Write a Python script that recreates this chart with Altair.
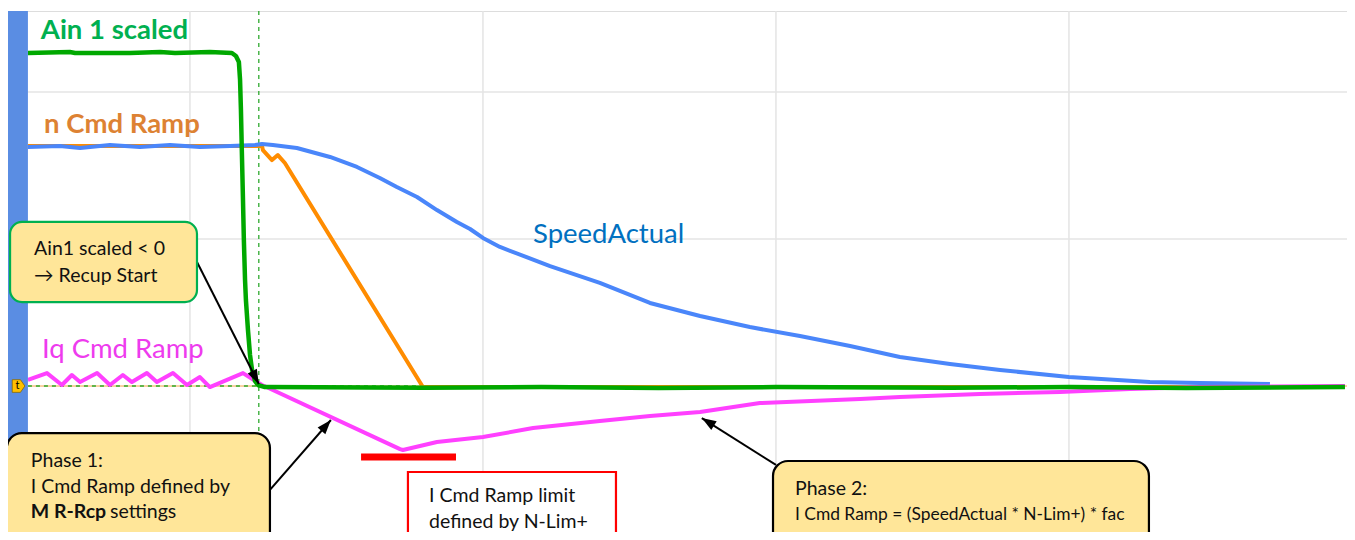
import altair as alt
import pandas as pd

# ---------------- data (time in ms, value in units; 100 units per grid division)
ain_t = [-55.3, -41.0, -39.2, -20.5, -10.2, -5.1, 6.8, 14.3, 15.7, 16.7, 17.1, 17.4, 17.7, 18.1, 18.4,
         18.8, 19.1, 19.8, 20.5, 21.2, 22.2, 23.2, 25.6, 80.0, 120.0, 160.0, 200.0, 260.0, 300.0, 340.0, 394.2]
ain_v = [226.5, 227.2, 226.5, 226.5, 227.2, 226.5, 227.2, 226.5, 224.5, 220.4, 208.2, 187.8, 160.5, 126.5, 99.3,
         72.1, 58.5, 38.1, 21.1, 10.9, 3.4, 0.7, -0.7, -1.2, -0.7, -1.4, -0.7, -1.2, -0.7, -1.4, -0.7]

ncmd_t = [-55.3, 24.6, 24.9, 28.0, 30.0, 32.4, 79.5, 394.2]
ncmd_v = [163.3, 163.3, 160.5, 153.7, 157.1, 151.7, -0.7, -0.7]

speed_t = [-55.3, -44.4, -37.5, -27.3, -17.1, -6.8, 3.4, 13.7, 22.2, 24.6, 28.3, 36.5, 47.8, 57.0, 64.8,
           70.6, 77.5, 84.3, 91.1, 95.6, 100.0, 105.8, 122.9, 139.9, 157.0, 174.1, 191.1, 208.2, 225.3,
           242.3, 259.4, 276.5, 300.0, 327.6, 344.7, 368.6]
speed_v = [162.6, 163.3, 161.9, 164.0, 162.6, 164.0, 162.6, 163.3, 164.0, 164.6, 164.0, 161.9, 155.8, 149.0, 141.5,
           135.4, 128.6, 119.7, 111.6, 106.8, 100.7, 94.6, 81.6, 70.1, 56.5, 47.6, 40.1, 34.0, 27.2,
           19.7, 15.0, 10.9, 6.1, 2.7, 2.0, 1.4]

iq_t = [-55.3, -48.8, -43.7, -40.3, -37.5, -31.7, -27.3, -22.9, -19.8, -14.7, -11.3, -5.8, -1.0, 3.4, 6.8,
        18.1, 22.9, 24.6, 71.7, 72.7, 84.3, 100.0, 117.1, 139.9, 157.0, 174.1, 194.5, 228.7, 242.3,
        269.6, 296.9, 320.8, 344.7, 394.2]
iq_v = [4.1, 8.8, 0.7, 7.5, 2.7, 8.8, 0.7, 7.5, 2.7, 8.8, 2.7, 8.8, 0.7, 6.1, -0.7,
        8.8, 2.7, 0.7, -42.9, -43.5, -38.1, -34.7, -28.6, -23.8, -20.4, -17.7, -11.6, -8.8, -7.5,
        -5.4, -4.1, -2.0, -0.7, 0.0]

series_names = ["n Cmd Ramp", "SpeedActual", "Iq Cmd Ramp", "Ain 1 scaled"]
series_colors = ["#FF8C00", "#4A86FA", "#FF40FF", "#00A800"]
series_widths = [4, 4, 4, 4.5]

# labels
label_text = ["Ain 1 scaled", "n Cmd Ramp", "SpeedActual", "Iq Cmd Ramp"]
label_t = [-50.9, -49.8, 117.1, -50.5]
label_v = [236.1, 172.1, 97.3, 19.0]
label_color = ["#00B050", "#DD8233", "#0070C0", "#EE3BEE"]
label_weight = ["bold", "bold", "normal", "normal"]

# annotation boxes
box_t0 = [-61.4, -62.5, 74.4, 199.0]
box_t1 = [2.4, 27.3, 145.4, 327.3]
box_v0 = [111.6, -32.0, -58.5, -51.0]
box_v1 = [57.1, -125.0, -125.0, -125.0]
box_stroke = ["#00B050", "#000000", "#FF0000", "#000000"]
box_fill = ["#FFE699", "#FFE699", "#FFFFFF", "#FFE699"]
box_radius = [12, 15, 0, 15]

note_text = ["Ain1 scaled < 0", "\u2192 Recup Start",
             "Phase 1:", "I Cmd Ramp defined by", "M R-Rcp", "settings",
             "I Cmd Ramp limit", "defined by N-Lim+",
             "Phase 2:", "I Cmd Ramp = (SpeedActual * N-Lim+) * fac"]
note_t = [-53.2, -53.2, -54.3, -54.3, -54.3, -27.3, 81.6, 81.6, 206.5, 206.5]
note_v = [89.1, 70.7, -55.1, -72.8, -89.8, -89.8, -78.9, -96.6, -74.1, -91.2]
note_weight = ["normal", "normal", "normal", "normal", "bold", "normal", "normal", "normal", "normal", "normal"]
note_size = [19.5, 19.5, 19.5, 19.5, 19.5, 19.5, 19.5, 19.5, 19.5, 17.4]

# arrows
arrow_t0 = [2.4, 27.3, 200.0]
arrow_v0 = [84.4, -70.7, -53.7]
arrow_t1 = [23.5, 48.1, 174.7]
arrow_v1 = [1.4, -23.1, -21.8]
arrow_angle = [153, 41, 302]

# red limit bar
limit_t = [58.4]
limit_t2 = [90.8]
limit_v = [-45.9]
limit_v2 = [-50.7]

trigger_t = [23.5]
x_grid = [0, 100, 200, 300]
y_grid = [100, 200]
x_domain = [-62.1, 394.9]
y_domain = [-99.3, 255.1]
bar_t = [-62.1, -55.3]

FONT = "Lato, DejaVu Sans, sans-serif"

# ---------------- frames
rows = []
for name, tt, vv in [("Ain 1 scaled", ain_t, ain_v), ("n Cmd Ramp", ncmd_t, ncmd_v),
                     ("SpeedActual", speed_t, speed_v), ("Iq Cmd Ramp", iq_t, iq_v)]:
    for i, (a, b) in enumerate(zip(tt, vv)):
        rows.append({"series": name, "t": a, "v": b, "i": i})
lines_df = pd.DataFrame(rows)

xs = alt.Scale(domain=x_domain, nice=False, zero=False)
ys = alt.Scale(domain=y_domain, nice=False, zero=False)


def X(f):
    return alt.X(f, scale=xs, axis=None)


def Y(f):
    return alt.Y(f, scale=ys, axis=None)


# grid lines
vgrid = alt.Chart(pd.DataFrame({"t": x_grid})).mark_rule(color="#E4E4E4", strokeWidth=1.5).encode(x=X("t:Q"))
hgrid = alt.Chart(pd.DataFrame({"v": y_grid})).mark_rule(color="#E4E4E4", strokeWidth=1.5).encode(y=Y("v:Q"))

# blue bar
bar_df = pd.DataFrame({"t": [bar_t[0]], "t2": [bar_t[1]], "v": [y_domain[0]], "v2": [y_domain[1]]})
bar = alt.Chart(bar_df).mark_rect(color="#5A8DE3").encode(x=X("t:Q"), x2="t2", y=Y("v:Q"), y2="v2")

zero_df = pd.DataFrame({"v": [0.0], "t": [bar_t[1]], "t2": [x_domain[1]]})
zero_o = alt.Chart(zero_df).mark_rule(color="#F5A54A", strokeWidth=1).encode(x=X("t:Q"), x2="t2", y=Y("v:Q"))
zero_g = alt.Chart(zero_df).mark_rule(color="#2EAA2E", strokeWidth=1.3, strokeDash=[4, 4]).encode(
    x=X("t:Q"), x2="t2", y=Y("v:Q"))

trig = alt.Chart(pd.DataFrame({"t": trigger_t})).mark_rule(color="#2EAA2E", strokeWidth=1.3,
                                                           strokeDash=[4, 4]).encode(x=X("t:Q"))

line_layers = []
for name, col, w in zip(series_names, series_colors, series_widths):
    line_layers.append(
        alt.Chart(lines_df[lines_df.series == name]).mark_line(color=col, strokeWidth=w, strokeJoin="round").encode(
            x=X("t:Q"), y=Y("v:Q"), order="i:Q"))

limit_df = pd.DataFrame({"t": limit_t, "t2": limit_t2, "v": limit_v, "v2": limit_v2})
limit = alt.Chart(limit_df).mark_rect(color="#FF0000").encode(x=X("t:Q"), x2="t2", y=Y("v:Q"), y2="v2")

label_layers = []
for txt, a, b, c, wgt in zip(label_text, label_t, label_v, label_color, label_weight):
    d = pd.DataFrame({"t": [a], "v": [b], "s": [txt]})
    label_layers.append(alt.Chart(d).mark_text(align="left", baseline="alphabetic", font=FONT, fontSize=27.5,
                                               fontWeight=wgt, color=c).encode(
        x=X("t:Q"), y=Y("v:Q"), text="s:N"))

box_layers = []
for a0, a1, b0, b1, sc, fc, r in zip(box_t0, box_t1, box_v0, box_v1, box_stroke, box_fill, box_radius):
    d = pd.DataFrame({"t": [a0], "t2": [a1], "v": [b0], "v2": [b1]})
    box_layers.append(alt.Chart(d).mark_rect(fill=fc, stroke=sc, strokeWidth=2.2, cornerRadius=r, clip=True).encode(
        x=X("t:Q"), x2="t2", y=Y("v:Q"), y2="v2"))

note_df = pd.DataFrame({"t": note_t, "v": note_v, "s": note_text, "w": note_weight, "fs": note_size})
note_layers = []
for wgt in ["normal", "bold"]:
    note_layers.append(alt.Chart(note_df[note_df.w == wgt]).mark_text(
        align="left", baseline="alphabetic", font=FONT, fontWeight=wgt, color="#111111").encode(
        x=X("t:Q"), y=Y("v:Q"), text="s:N", size=alt.Size("fs:Q", scale=None)))

arrow_df = pd.DataFrame({"t": arrow_t0, "v": arrow_v0, "t2": arrow_t1, "v2": arrow_v1, "ang": arrow_angle})
arrow_lines = alt.Chart(arrow_df).mark_rule(color="#000000", strokeWidth=2).encode(
    x=X("t:Q"), y=Y("v:Q"), x2="t2", y2="v2")
arrow_heads = alt.Chart(arrow_df).mark_point(shape="M0,0L0.5,1.4L-0.5,1.4Z", filled=True, color="#000000",
                                             opacity=1, size=420).encode(
    x=X("t2:Q"), y=Y("v2:Q"), angle=alt.Angle("ang:Q", scale=None))

tm_df = pd.DataFrame({"t": [-58.5], "v": [0.0], "s": ["t"]})
tmark = alt.Chart(tm_df).mark_point(shape="M-1,-1L0.3,-1L1,0L0.3,1L-1,1Z", filled=True, fill="#FFC000",
                                    stroke="#8A6A00", strokeWidth=0.8, opacity=1, size=160).encode(
    x=X("t:Q"), y=Y("v:Q"))
ttext = alt.Chart(tm_df).mark_text(font=FONT, fontSize=11, color="#000000", align="center", baseline="middle",
                                   dx=-1).encode(x=X("t:Q"), y=Y("v:Q"), text="s:N")

chart = alt.layer(
    vgrid, hgrid, zero_o, zero_g, trig, *line_layers, bar, limit, *label_layers, arrow_lines, arrow_heads,
    *box_layers, *note_layers, tmark, ttext
).properties(
    width=1339, height=521,
    autosize=alt.AutoSizeParams(type="none"),
    padding={"left": 0, "top": 3, "right": 0, "bottom": 0},
).configure_view(stroke=None).configure(background="#FFFFFF")

chart.save("out.html", embed_options={"renderer": "svg", "actions": False})
